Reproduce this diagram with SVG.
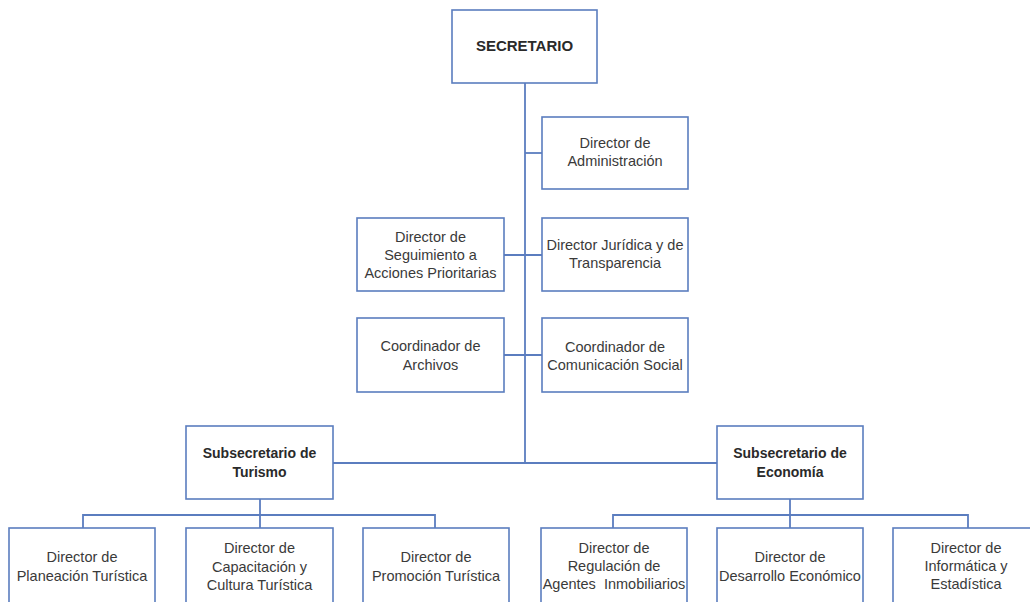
<svg xmlns="http://www.w3.org/2000/svg" width="1030" height="602" viewBox="0 0 1030 602">
<style>
.box{fill:#ffffff;stroke:#5b7dbf;stroke-width:1.6}
.ln{fill:none;stroke:#5b7dbf;stroke-width:1.8}
text{font-family:"Liberation Sans",Arial,sans-serif;font-size:14.5px;fill:#3a3a3a;text-anchor:middle}
.b{font-weight:bold;font-size:14px;fill:#2a2a2a}
.t{font-size:15px}
</style>
<rect width="1030" height="602" fill="#ffffff"/>
<g id="connectors">
<path class="ln" d="M525,83 V463"/>
<path class="ln" d="M525,153 H542"/>
<path class="ln" d="M504,255 H542"/>
<path class="ln" d="M504,355 H542"/>
<path class="ln" d="M333,463 H717"/>
<path class="ln" d="M260,499 V528 M83,528 V515 H435 V528"/>
<path class="ln" d="M790,499 V528 M613,528 V515 H968 V528"/>
</g>
<g id="secretario">
<rect class="box" x="452" y="10" width="145" height="73"/>
<text class="b t" x="524.5" y="51">SECRETARIO</text>
</g>
<g id="dir-administracion">
<rect class="box" x="542" y="117" width="146" height="72"/>
<text x="615" y="148">Director de</text>
<text x="615" y="166">Administración</text>
</g>
<g id="dir-seguimiento">
<rect class="box" x="357" y="218" width="147" height="73"/>
<text x="430.5" y="242">Director de</text>
<text x="430.5" y="260">Seguimiento a</text>
<text x="430.5" y="278">Acciones Prioritarias</text>
</g>
<g id="dir-juridica">
<rect class="box" x="542" y="218" width="146" height="73"/>
<text x="615" y="250">Director Jurídica y de</text>
<text x="615" y="268">Transparencia</text>
</g>
<g id="coord-archivos">
<rect class="box" x="357" y="318" width="147" height="74"/>
<text x="430.5" y="351">Coordinador de</text>
<text x="430.5" y="370">Archivos</text>
</g>
<g id="coord-comunicacion">
<rect class="box" x="542" y="318" width="146" height="74"/>
<text x="615" y="352">Coordinador de</text>
<text x="615" y="370">Comunicación Social</text>
</g>
<g id="sub-turismo">
<rect class="box" x="186" y="426" width="147" height="73"/>
<text class="b" x="259.5" y="458">Subsecretario de</text>
<text class="b" x="259.5" y="477">Turismo</text>
</g>
<g id="sub-economia">
<rect class="box" x="717" y="426" width="146" height="73"/>
<text class="b" x="790" y="458">Subsecretario de</text>
<text class="b" x="790" y="477">Economía</text>
</g>
<g id="dir-planeacion">
<rect class="box" x="9" y="528" width="146" height="80"/>
<text x="82" y="562">Director de</text>
<text x="82" y="581">Planeación Turística</text>
</g>
<g id="dir-capacitacion">
<rect class="box" x="186" y="528" width="147" height="80"/>
<text x="259.5" y="553">Director de</text>
<text x="259.5" y="572">Capacitación y</text>
<text x="259.5" y="590">Cultura Turística</text>
</g>
<g id="dir-promocion">
<rect class="box" x="363" y="528" width="146" height="80"/>
<text x="436" y="562">Director de</text>
<text x="436" y="581">Promoción Turística</text>
</g>
<g id="dir-regulacion">
<rect class="box" x="541" y="528" width="146" height="80"/>
<text x="614" y="553">Director de</text>
<text x="614" y="571">Regulación de</text>
<text x="614" y="589" xml:space="preserve">Agentes  Inmobiliarios</text>
</g>
<g id="dir-desarrollo">
<rect class="box" x="717" y="528" width="146" height="80"/>
<text x="790" y="562">Director de</text>
<text x="790" y="581">Desarrollo Económico</text>
</g>
<g id="dir-informatica">
<rect class="box" x="893" y="528" width="146" height="80"/>
<text x="966" y="553">Director de</text>
<text x="966" y="571">Informática y</text>
<text x="966" y="589">Estadística</text>
</g>
</svg>
